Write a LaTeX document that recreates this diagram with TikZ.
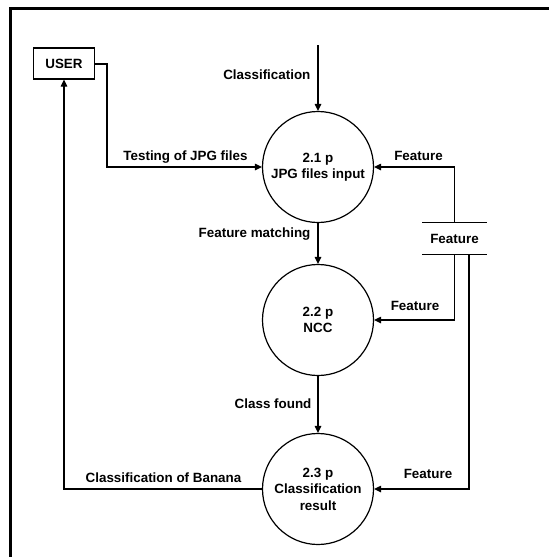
\documentclass[tikz,border=0pt]{standalone}
\usepackage{fontspec}
\setmainfont{Liberation Sans}
\usetikzlibrary{arrows.meta}
\begin{document}
\begin{tikzpicture}[x=1pt,y=-1pt, line width=1.2pt,
  font=\bfseries\fontsize{13.4}{16.5}\selectfont,
  proc/.style={circle, draw, minimum size=111pt, inner sep=0pt, align=center},
  flow/.style={-{Triangle[length=7pt,width=6.5pt]}},
  lbl/.style={inner sep=0pt, text height=9.6pt, text depth=0pt}]
\useasboundingbox (0,0) rectangle (549,557);
\draw[line width=3pt] (10,557) -- (10,8.5) -- (549,8.5);
% nodes
\node[draw, minimum width=61pt, minimum height=31pt, inner sep=0pt] (user) at (64,63.5) {USER};
\node[proc] (c1) at (318,167) {2.1 p\\JPG files input};
\node[proc] (c2) at (318,320) {2.2 p\\NCC};
\node[proc] (c3) at (318,489) {2.3 p\\Classification\\result};
\node[minimum width=63pt, minimum height=31pt, inner sep=0pt] (store) at (454.5,238.5) {Feature};
\draw (store.north west) -- (store.north east);
\draw (store.south west) -- (store.south east);
\coordinate (top) at (318,45);
\coordinate (ubend) at (107,64);
% connectors
\draw[flow] (top) -- (c1.north);
\draw[flow] (user.east |- ubend) -- (ubend) |- (c1.west);
\draw[flow] (store.north) |- (c1.east);
\draw[flow] (c1.south) -- (c2.north);
\draw[flow] (store.south) |- (c2.east);
\draw[flow] (c2.south) -- (c3.north);
\draw[flow] ([xshift=14.5pt]store.south) |- (c3.east);
\draw[flow] (c3.west) -| (user.south);
% labels
\node[lbl, anchor=east] (l1) at (311,75) {Classification};
\node[lbl] (l2) at (185.5,156) {Testing of JPG files};
\node[lbl] (l3) at (418.5,156) {Feature};
\node[lbl, anchor=east] (l4) at (311,233) {Feature matching};
\node[lbl] (l5) at (415,306) {Feature};
\node[lbl, anchor=east] (l6) at (312,404) {Class found};
\node[lbl] (l7) at (163.5,478) {Classification of Banana};
\node[lbl] (l8) at (428,474) {Feature};
\end{tikzpicture}
\end{document}
